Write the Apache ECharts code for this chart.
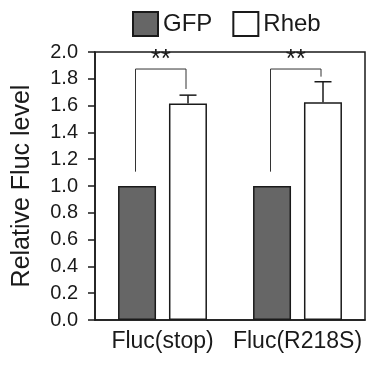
<!DOCTYPE html>
<html>
<head>
<meta charset="utf-8">
<script src="https://cdn.jsdelivr.net/npm/echarts@6/dist/echarts.min.js"></script>
<style>html,body{margin:0;padding:0;background:#fff}#c{width:374px;height:371px}</style>
</head>
<body>
<div id="c"></div>
<script>
const categories = ['Fluc(stop)', 'Fluc(R218S)'];
const seriesNames = ['GFP', 'Rheb'];
const gfpValues = [1.0, 1.0];
const rhebValues = [1.615, 1.625];
const rhebErrTop = [1.678, 1.778];
const bracketTop = [1.873, 1.873];
const bracketLeftBottom = [1.107, 1.107];
const bracketRightBottom = [1.724, 1.816];
const sigLabels = ['**', '**'];
const yTicks = [0, 0.2, 0.4, 0.6, 0.8, 1.0, 1.2, 1.4, 1.6, 1.8, 2.0];

const FONT = '"Liberation Sans", Arial, sans-serif';
const INK = '#1a1a1a';
const BAR_W = 38;
const OFF = 25.5;

const chart = echarts.init(document.getElementById('c'), null, {renderer: 'canvas'});

const errData = categories.map((c, i) => [i, rhebValues[i], rhebErrTop[i]]);
const brData = categories.map((c, i) => [i, bracketLeftBottom[i], bracketRightBottom[i], bracketTop[i]]);

chart.setOption({
  animation: false,
  backgroundColor: '#fff',
  legend: {
    data: seriesNames,
    left: 127, top: 6,
    itemWidth: 25, itemHeight: 24, itemGap: 20,
    textStyle: {fontFamily: FONT, fontSize: 24, color: INK},
    icon: 'rect'
  },
  grid: {
    left: 95, right: 9, top: 52, bottom: 51,
    show: true, borderColor: INK, borderWidth: 1.5, backgroundColor: 'transparent'
  },
  xAxis: {
    type: 'category', data: categories,
    axisLine: {lineStyle: {color: INK, width: 1.5}},
    axisTick: {alignWithLabel: true, length: 8, lineStyle: {color: INK, width: 1.5}},
    axisLabel: {fontFamily: FONT, fontSize: 23, color: INK, margin: 10, interval: 0}
  },
  yAxis: {
    type: 'value', min: 0, max: 2, interval: 0.2,
    name: 'Relative Fluc level', nameLocation: 'middle', nameGap: 60,
    nameTextStyle: {fontFamily: FONT, fontSize: 25, color: INK},
    axisLine: {show: true, lineStyle: {color: INK, width: 1.5}},
    axisTick: {show: true, length: 7, lineStyle: {color: INK, width: 1.5}},
    splitLine: {show: false},
    axisLabel: {fontFamily: FONT, fontSize: 20, color: INK, margin: 17,
      formatter: v => yTicks.includes(Math.round(v*10)/10) ? v.toFixed(1) : ''}
  },
  series: [
    {
      name: 'GFP', type: 'bar', data: gfpValues, barWidth: BAR_W, barGap: '34%',
      itemStyle: {color: '#666666', borderColor: INK, borderWidth: 1.5}
    },
    {
      name: 'Rheb', type: 'bar', data: rhebValues, barWidth: BAR_W,
      itemStyle: {color: '#ffffff', borderColor: INK, borderWidth: 1.5}
    },
    {
      type: 'custom', data: errData, z: 5,
      renderItem: function (params, api) {
        const i = api.value(0);
        const p0 = api.coord([i, api.value(1)]);
        const p1 = api.coord([i, api.value(2)]);
        const x = p0[0] + OFF;
        return {
          type: 'group',
          children: [
            {type: 'line', shape: {x1: x, y1: p0[1], x2: x, y2: p1[1]}, style: {stroke: INK, lineWidth: 1.5}},
            {type: 'line', shape: {x1: x - 8.5, y1: p1[1], x2: x + 8.5, y2: p1[1]}, style: {stroke: INK, lineWidth: 1.5}}
          ]
        };
      }
    },
    {
      type: 'custom', data: brData, z: 5,
      renderItem: function (params, api) {
        const i = api.value(0);
        const pl = api.coord([i, api.value(1)]);
        const pr = api.coord([i, api.value(2)]);
        const pt = api.coord([i, api.value(3)]);
        const xl = pl[0] - OFF - 1.5, xr = pl[0] + OFF - 2;
        return {
          type: 'group',
          children: [
            {type: 'polyline', shape: {points: [[xl, pl[1]], [xl, pt[1]], [xr, pt[1]], [xr, pr[1]]]},
              style: {stroke: '#333', lineWidth: 1, fill: null}},
            {type: 'text', x: (xl + xr) / 2, y: pt[1] + 4,
              style: {text: sigLabels[params.dataIndex], fontFamily: FONT, fontSize: 26, fill: INK,
                align: 'center', verticalAlign: 'bottom'}}
          ]
        };
      }
    }
  ]
});
</script>
</body>
</html>
